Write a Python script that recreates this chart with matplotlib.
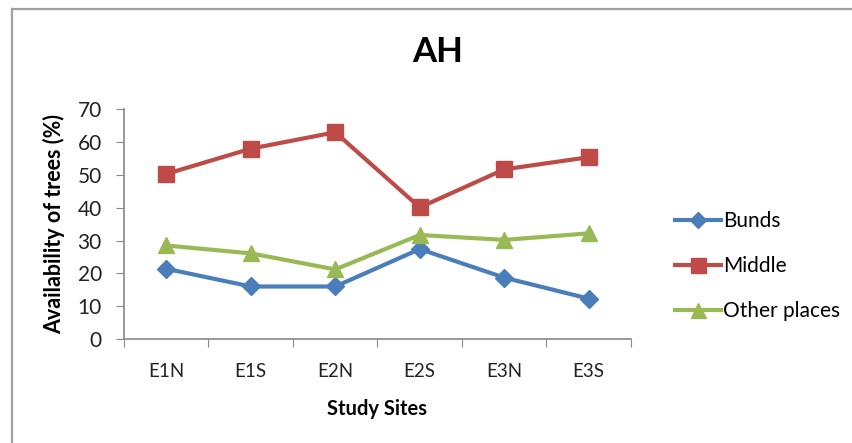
import matplotlib
matplotlib.use("Agg")
import matplotlib.pyplot as plt
from matplotlib.lines import Line2D

sites = ["E1N", "E1S", "E2N", "E2S", "E3N", "E3S"]
bunds = [21.4, 16.0, 16.0, 27.4, 18.7, 12.3]
middle = [50.3, 58.0, 63.0, 40.1, 51.7, 55.4]
other_places = [28.5, 26.1, 21.2, 31.7, 30.2, 32.2]

series_names = ["Bunds", "Middle", "Other places"]
colors = ["#4a7ebb", "#be4b48", "#98b954"]
markers = ["D", "s", "^"]
marker_sizes = [9, 12, 12]

plt.rcParams["font.family"] = ["Lato", "DejaVu Sans"]

fig = plt.figure(figsize=(8.53, 4.43), dpi=100)
ax = fig.add_axes([124 / 853, 1 - 339 / 443, (631 - 124) / 853, (339 - 109.3) / 443])

x = [i + 0.5 for i in range(len(sites))]
for vals, name, c, m, ms in zip([bunds, middle, other_places], series_names, colors, markers, marker_sizes):
    ax.plot(x, vals, color=c, lw=3, marker=m, ms=ms, label=name,
            markeredgecolor=c, solid_joinstyle="round")

ax.set_xlim(0, len(sites))
ax.set_ylim(0, 70)
ax.set_yticks(range(0, 71, 10))
ax.set_xticks(range(0, len(sites) + 1))
ax.set_xticklabels([])
ax.set_xticks(x, minor=True)
ax.set_xticklabels(sites, minor=True)
ax.tick_params(axis="x", which="minor", length=0, pad=17, labelsize=13.5, colors="#222222")
ax.tick_params(axis="x", which="major", length=6, direction="out", color="#888888")
ax.tick_params(axis="y", length=6, direction="out", color="#888888", labelsize=15, pad=10,
               labelcolor="#222222")

for side in ["top", "right"]:
    ax.spines[side].set_visible(False)
for side in ["left", "bottom"]:
    ax.spines[side].set_color("#888888")
    ax.spines[side].set_linewidth(1.2)

ax.set_xlabel("Study Sites", fontsize=14.5, fontweight="bold", labelpad=14)
ax.set_ylabel("Availability of trees (%)", fontsize=15.5, fontweight="bold", labelpad=9)

fig.text(438 / 853, 1 - 52 / 443, "AH", fontsize=25, fontweight="bold",
         ha="center", va="center")

handles = [Line2D([0], [0], color=c, lw=3, marker=m, ms=ms * 0.9, markeredgecolor=c)
           for c, m, ms in zip(colors, markers, marker_sizes)]
fig.legend(handles, series_names, loc="center left",
           bbox_to_anchor=(665 / 853, 1 - 266 / 443), frameon=False,
           fontsize=15, handlelength=2.2, handletextpad=0.1, labelspacing=1.2,
           borderpad=0)

# chart frame on the left and top edges
fig.add_artist(Line2D([12 / 853, 12 / 853], [0, 1 - 9 / 443], color="#a0a0a0", lw=1.6,
                      transform=fig.transFigure))
fig.add_artist(Line2D([12 / 853, 1], [1 - 9 / 443, 1 - 9 / 443], color="#a0a0a0", lw=1.6,
                      transform=fig.transFigure))

fig.savefig("out.png", dpi=100)
